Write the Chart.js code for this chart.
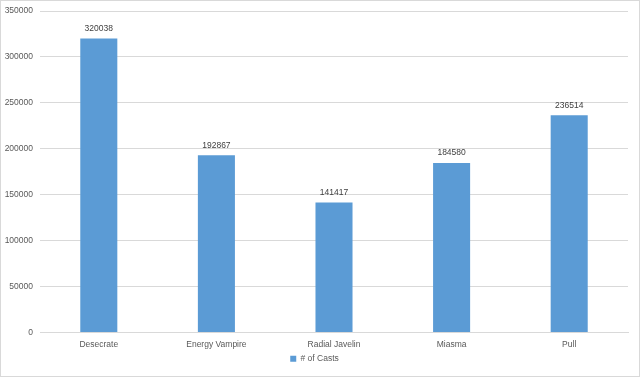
<!DOCTYPE html>
<html>
<head>
<meta charset="utf-8">
<script src="https://cdn.jsdelivr.net/npm/chart.js@4/dist/chart.umd.min.js"></script>
<style>
  html, body { margin: 0; padding: 0; background: #fff; }
  #wrap { position: relative; width: 638px; height: 375px; border: 1px solid #d9d9d9; }
</style>
</head>
<body>
<div id="wrap"><canvas id="castsChart"></canvas></div>
<script>
// skill names and cast counts
const categories = ['Desecrate', 'Energy Vampire', 'Radial Javelin', 'Miasma', 'Pull'];
const casts = [320038, 192867, 141417, 184580, 236514];
const seriesName = '# of Casts';

const barColor = '#5b9bd5';
const textColor = '#595959';
const gridColor = '#d9d9d9';
const fontFamily = '"Liberation Sans", Arial, sans-serif';

// values drawn above each bar
const valueLabels = {
    id: 'valueLabels',
    afterDatasetsDraw(chart) {
        const ctx = chart.ctx;
        const meta = chart.getDatasetMeta(0);
        ctx.save();
        ctx.font = '8.5px ' + fontFamily;
        ctx.fillStyle = '#404040';
        ctx.textAlign = 'center';
        ctx.textBaseline = 'middle';
        meta.data.forEach((bar, i) => {
            ctx.fillText(String(casts[i]), bar.x, bar.y - 10);
        });
        ctx.restore();
    }
};

const ctx = document.getElementById('castsChart').getContext('2d');
new Chart(ctx, {
    type: 'bar',
    data: {
        labels: categories,
        datasets: [{
            label: seriesName,
            data: casts,
            backgroundColor: barColor,
            borderWidth: 0,
            barPercentage: 0.315,
            categoryPercentage: 1
        }]
    },
    options: {
        responsive: true,
        maintainAspectRatio: false,
        animation: false,
        layout: {
            padding: { top: 10, right: 11, bottom: 3, left: 0 }
        },
        plugins: {
            legend: {
                position: 'bottom',
                labels: {
                    boxWidth: 6,
                    boxHeight: 6,
                    padding: 2,
                    color: textColor,
                    font: { size: 8.5, family: fontFamily }
                }
            },
            tooltip: { enabled: false }
        },
        scales: {
            x: {
                grid: { display: false, drawTicks: false },
                border: { color: gridColor },
                ticks: {
                    color: textColor,
                    padding: 7,
                    font: { size: 8.5, family: fontFamily }
                },
                afterFit: (scale) => { scale.height = 20; }
            },
            y: {
                min: 0,
                max: 350000,
                grid: { color: gridColor, drawTicks: false },
                border: { display: false },
                ticks: {
                    stepSize: 50000,
                    color: textColor,
                    padding: 7,
                    font: { size: 8.5, family: fontFamily },
                    callback: (v) => String(v)
                },
                afterFit: (scale) => {
                    scale.width = 39;
                    scale.paddingTop = 0;
                }
            }
        }
    },
    plugins: [valueLabels]
});
</script>
</body>
</html>
